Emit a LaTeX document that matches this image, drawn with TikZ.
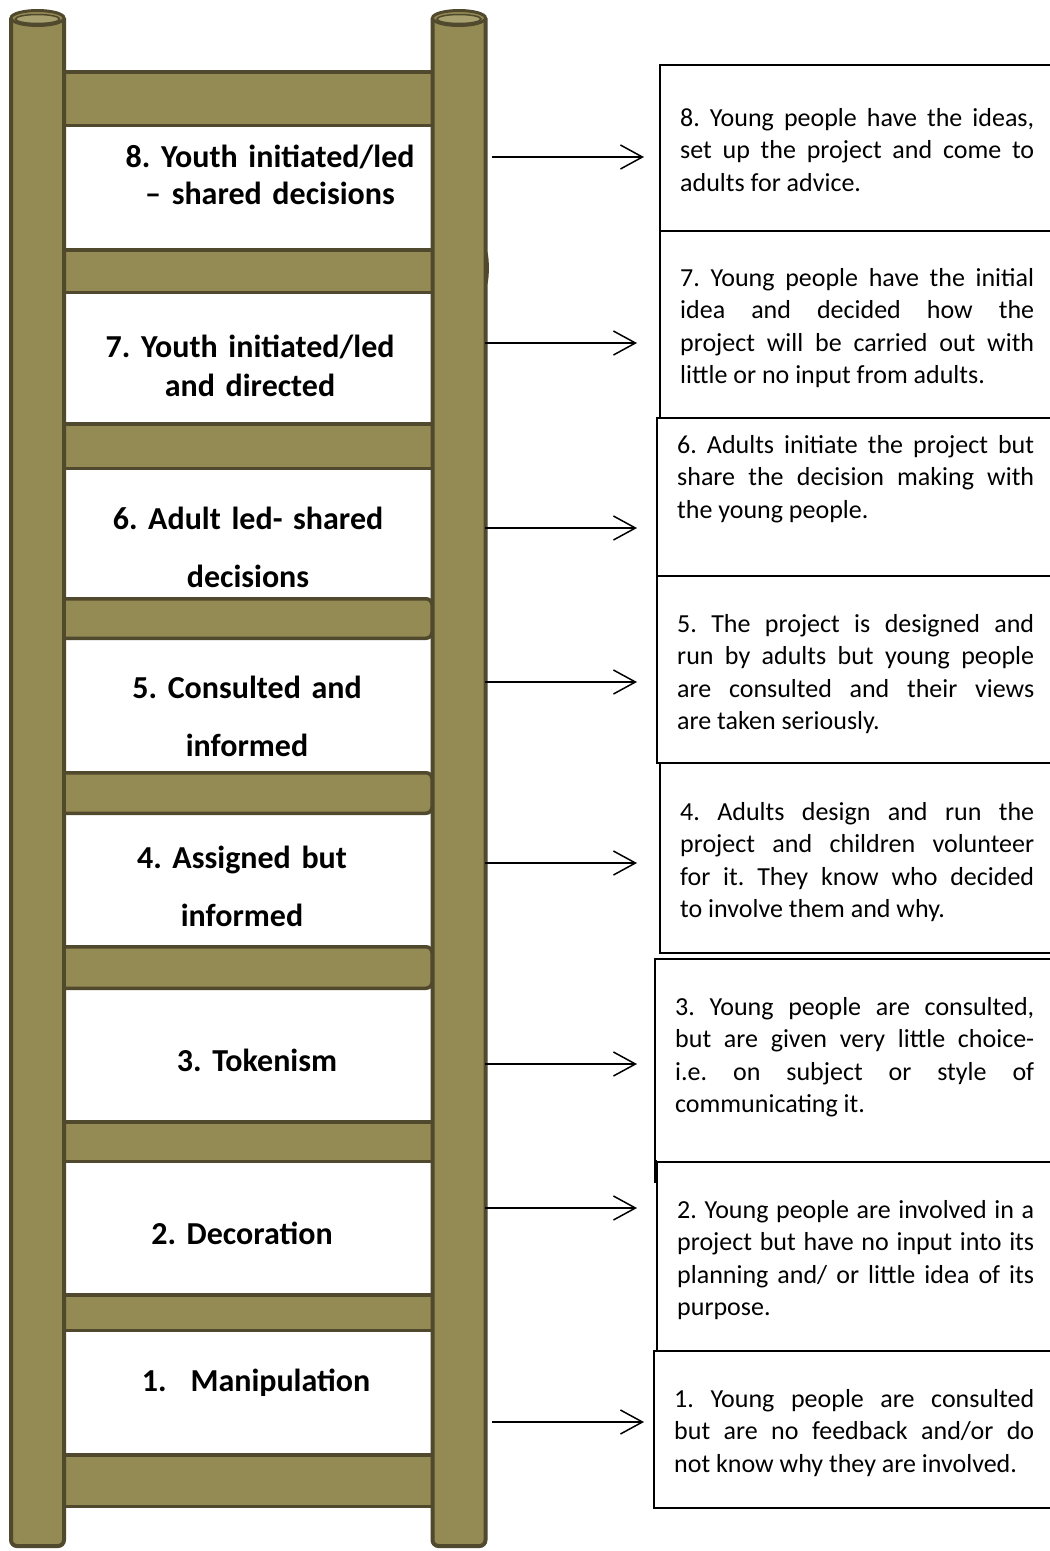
\documentclass[tikz,border=0pt]{standalone}
\usepackage{fontspec}
\setmainfont{Carlito}
\usetikzlibrary{arrows.meta}
\frenchspacing

\definecolor{woodfill}{RGB}{148,138,84}
\definecolor{woodline}{RGB}{80,73,45}
\definecolor{woodtop}{RGB}{168,160,110}

% a line of a justified paragraph, stretched to the full width
\newcommand\fullline[1]{\makebox[\linewidth][s]{#1}}
% a paragraph of set lines, first baseline on the node's base
\newcommand\desclines[2]{\parbox[t]{#1}{#2}}

\tikzset{
  rungbar/.style={fill=woodfill, draw=woodline, line width=3.5pt},
  rungedge/.style={draw=woodline, line width=3.5pt, rounded corners=6pt},
  postbody/.style={fill=woodfill, draw=woodline, line width=4pt, rounded corners=6pt},
  postcap/.style={fill=woodfill, draw=woodline, line width=3pt},
  postface/.style={fill=woodtop, draw=woodline, line width=1.5pt},
  rungtext/.style={anchor=base, inner sep=0pt, align=center, text width=360pt,
    font=\bfseries\fontsize{32pt}{#1}\selectfont},
  rungtext/.default=39pt,
  descbox/.style={draw=black, line width=1.8pt, inner sep=0pt, outer sep=0pt,
    anchor=north west},
  desctext/.style={anchor=base west, inner sep=0pt,
    font=\fontsize{26pt}{32.6pt}\selectfont},
  pointer/.style={line width=1.5pt, -{Straight Barb[length=22pt,width=24pt]}}
}

\begin{document}
\begin{tikzpicture}[x=1pt,y=-1pt]
\fill[white] (0,0) rectangle (1050,1551);
\useasboundingbox (0,0) rectangle (1050,1551);

% rungs that run behind the posts
\foreach \t/\b in {70/127, 248/294, 422/470, 1120/1163, 1293/1332, 1453/1508}
  \draw[rungbar] (40,\t+1.75) rectangle (455,\b-1.75);

% the two posts, each with a round top
\foreach \cx in {37.5, 459} {
  \draw[postbody] (\cx-26.5,18) -- (\cx-26.5,1546) -- (\cx+26.5,1546) -- (\cx+26.5,18);
  \draw[postcap] (\cx,18) ellipse [x radius=26.5, y radius=7.5];
  \draw[postface] (\cx,19) ellipse [x radius=22, y radius=4.5];
}
\draw[woodline, line width=1.8pt] (486.5,252) .. controls (488.5,260) and (488.5,276) .. (486.5,284);

% rungs whose right ends lie over the post
\foreach \t/\b in {597/640, 771/815, 945/990} {
  \fill[woodfill] (66,\t) rectangle (420,\b);
  \fill[woodfill, rounded corners=6pt] (400,\t+1.75) rectangle (432,\b-1.75);
  \draw[rungedge] (66,\t+1.75) -- (432,\t+1.75) -- (432,\b-1.75) -- (66,\b-1.75);
}

% labels on the ladder
\node[rungtext=37.5pt] (l8) at (270,167) {8. Youth initiated/led\\– shared decisions};
\node[rungtext=39pt] (l7) at (250,357) {7. Youth initiated/led\\and directed};
\node[rungtext=58pt] (l6) at (248,529) {6. Adult led- shared\\decisions};
\node[rungtext=58pt] (l5) at (247,698) {5. Consulted and\\informed};
\node[rungtext=58pt] (l4) at (242,868) {4. Assigned but\\informed};
\node[rungtext] (l3) at (257,1071) {3. Tokenism};
\node[rungtext] (l2) at (242,1244) {2. Decoration};
\node[rungtext] (l1) at (256,1391) {1.\hspace{24pt}Manipulation};

% description boxes
\node[descbox, minimum width=400pt, minimum height=166pt] (d8) at (660,65) {};
\node[descbox, minimum width=400pt, minimum height=187pt] (d7) at (660,231) {};
\node[descbox, minimum width=403pt, minimum height=158pt] (d6) at (657,418) {};
\node[descbox, minimum width=403pt, minimum height=187pt] (d5) at (657,576) {};
\node[descbox, minimum width=400pt, minimum height=190pt] (d4) at (660,763) {};
\node[descbox, minimum width=405pt, minimum height=203pt] (d3) at (655,959) {};
\node[descbox, minimum width=403pt, minimum height=189pt] (d2) at (657,1162) {};
\node[descbox, minimum width=406pt, minimum height=157pt] (d1) at (654,1351) {};
\draw[line width=3pt] (655.5,1160) -- (655.5,1183);

% description texts
\node[desctext] (t8) at (680,126) {\desclines{354pt}{%
   \fullline{8. Young people have the ideas,}\\
   \fullline{set up the project and come to}\\
   \mbox{adults for advice.}}};
\node[desctext] (t7) at (680,286) {\desclines{354pt}{%
   \fullline{7. Young people have the initial}\\
   \fullline{idea and decided how the}\\
   \fullline{project will be carried out with}\\
   \mbox{little or no input from adults.}}};
\node[desctext] (t6) at (677,453) {\desclines{357pt}{%
   \fullline{6. Adults initiate the project but}\\
   \fullline{share the decision making with}\\
   \mbox{the young people.}}};
\node[desctext] (t5) at (677,632) {\desclines{357pt}{%
   \fullline{5. The project is designed and}\\
   \fullline{run by adults but young people}\\
   \fullline{are consulted and their views}\\
   \mbox{are taken seriously.}}};
\node[desctext] (t4) at (680,820) {\desclines{354pt}{%
   \fullline{4. Adults design and run the}\\
   \fullline{project and children volunteer}\\
   \fullline{for it. They know who decided}\\
   \mbox{to involve them and why.}}};
\node[desctext] (t3) at (675,1015) {\desclines{359pt}{%
   \fullline{3. Young people are consulted,}\\
   \fullline{but are given very little choice-}\\
   \fullline{i.e. on subject or style of}\\
   \mbox{communicating it.}}};
\node[desctext] (t2) at (677,1218) {\desclines{357pt}{%
   \fullline{2. Young people are involved in a}\\
   \fullline{project but have no input into its}\\
   \fullline{planning and/ or little idea of its}\\
   \mbox{purpose.}}};
\node[desctext] (t1) at (674,1407) {\desclines{360pt}{%
   \fullline{1. Young people are consulted}\\
   \fullline{but are no feedback and/or do}\\
   \mbox{not know why they are involved.}}};

% arrows from the ladder to the descriptions
\coordinate (s8) at (492,157);
\coordinate (s7) at (485,343);
\coordinate (s6) at (485,528);
\coordinate (s5) at (485,682);
\coordinate (s4) at (485,863);
\coordinate (s3) at (485,1064);
\coordinate (s2) at (485,1208);
\coordinate (s1) at (492,1422);
\draw[pointer, shorten >=16pt] (s8) -- (d8.west |- s8);
\draw[pointer, shorten >=23pt] (s7) -- (d7.west |- s7);
\draw[pointer, shorten >=20pt] (s6) -- (d6.west |- s6);
\draw[pointer, shorten >=20pt] (s5) -- (d5.west |- s5);
\draw[pointer, shorten >=23pt] (s4) -- (d4.west |- s4);
\draw[pointer, shorten >=18pt] (s3) -- (d3.west |- s3);
\draw[pointer, shorten >=20pt] (s2) -- (d2.west |- s2);
\draw[pointer, shorten >=10pt] (s1) -- (d1.west |- s1);
\end{tikzpicture}
\end{document}
